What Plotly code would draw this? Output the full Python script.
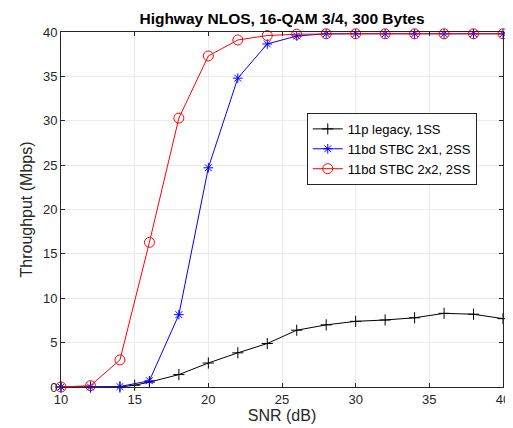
import plotly.graph_objects as go

# SNR (dB) points and throughput (Mbps) per scheme
snr_legacy = [10, 12, 14, 15, 16, 18, 20, 22, 24, 26, 28, 30, 32, 34, 36, 38, 40]
tput_legacy = [0, 0, 0, 0.2, 0.55, 1.4, 2.7, 3.85, 4.9, 6.4, 7.0, 7.4, 7.55, 7.8, 8.3, 8.2, 7.7]

snr_bd = [10, 12, 14, 16, 18, 20, 22, 24, 26, 28, 30, 32, 34, 36, 38, 40]
tput_2x1 = [0, 0, 0.05, 0.7, 8.15, 24.7, 34.8, 38.65, 39.55, 39.8, 39.8, 39.8, 39.8, 39.8, 39.8, 39.8]
tput_2x2 = [0, 0.15, 3.05, 16.3, 30.3, 37.3, 39.1, 39.6, 39.75, 39.8, 39.8, 39.8, 39.8, 39.8, 39.8, 39.8]

names = ['11p legacy, 1SS', '11bd STBC 2x1, 2SS', '11bd STBC 2x2, 2SS']

font = 'Liberation Sans, Arial, sans-serif'
axis_col = '#262626'

fig = go.Figure()
fig.add_trace(go.Scatter(
    x=snr_legacy, y=tput_legacy, name=names[0], mode='lines+markers',
    line=dict(color='black', width=1),
    marker=dict(symbol='cross-thin', size=8, line=dict(color='black', width=1)),
    cliponaxis=False))
fig.add_trace(go.Scatter(
    x=snr_bd, y=tput_2x1, name=names[1], mode='lines+markers',
    line=dict(color='#0000ff', width=1),
    marker=dict(symbol='asterisk-open', size=8, line=dict(color='#0000ff', width=1)),
    cliponaxis=False))
fig.add_trace(go.Scatter(
    x=snr_bd, y=tput_2x2, name=names[2], mode='lines+markers',
    line=dict(color='#ff0000', width=1),
    marker=dict(symbol='circle-open', size=10, line=dict(color='#ff0000', width=1)),
    cliponaxis=False))

fig.update_layout(
    width=513, height=428,
    margin=dict(l=53, r=11, t=24, b=49),
    paper_bgcolor='white', plot_bgcolor='white',
    font=dict(family=font, size=13, color=axis_col),
    title=dict(text='<b>Highway NLOS, 16-QAM 3/4, 300 Bytes</b>', x=0.5, xref='paper',
               y=0.975, yanchor='middle', font=dict(size=15.5, color='black')),
    showlegend=True,
    legend=dict(x=0.556, y=0.772, xanchor='left', yanchor='top',
                bgcolor='white', bordercolor=axis_col, borderwidth=1,
                font=dict(size=13, color='black'), tracegroupgap=0),
)
fig.update_xaxes(
    range=[10, 40], dtick=5, title=dict(text='SNR (dB)', standoff=4),
    showgrid=True, gridcolor='#ebebeb', gridwidth=1, zeroline=False,
    showline=True, linecolor=axis_col, linewidth=1, mirror='ticks',
    ticks='inside', ticklen=4, tickcolor=axis_col)
fig.update_yaxes(
    range=[0, 40], dtick=5, title=dict(text='Throughput (Mbps)', standoff=6),
    showgrid=True, gridcolor='#ebebeb', gridwidth=1, zeroline=False,
    showline=True, linecolor=axis_col, linewidth=1, mirror='ticks',
    ticks='inside', ticklen=4, tickcolor=axis_col)

fig.write_html("out.html")
